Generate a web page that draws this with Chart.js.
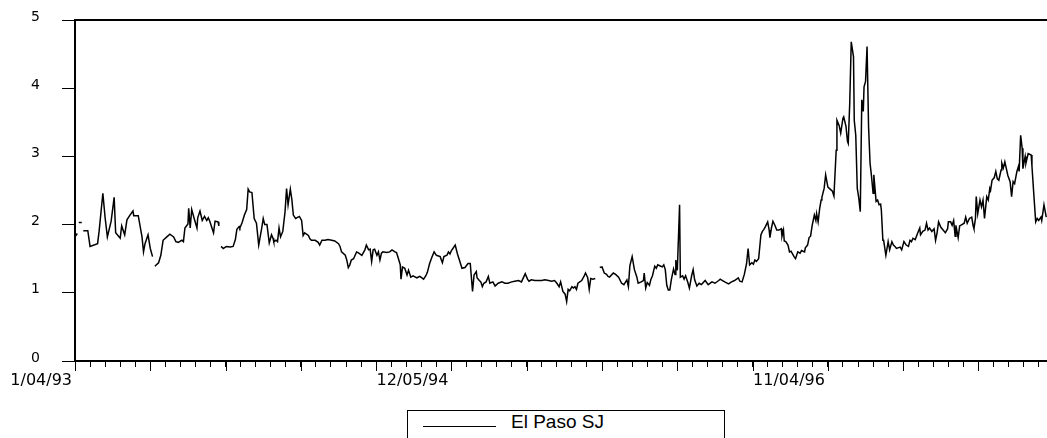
<!DOCTYPE html>
<html>
<head>
<meta charset="utf-8">
<script src="https://cdn.jsdelivr.net/npm/chart.js@4"></script>
<style>
  html, body { margin: 0; padding: 0; background: #fff; overflow: hidden; }
  #wrap { position: relative; width: 1047px; height: 438px; }
  #legend {
    position: absolute; left: 407px; top: 410px; width: 318px; height: 40px;
    box-sizing: border-box; border: 1px solid #000; background: #fff;
    font-family: "Liberation Sans", Arial, sans-serif; font-size: 19px; color: #000;
  }
  #legend .swatch { position: absolute; left: 15px; top: 15px; width: 73px; border-top: 1px solid #000; }
  #legend .name { position: absolute; left: 103px; top: 0px; white-space: nowrap; }
</style>
</head>
<body>
<div id="wrap">
  <canvas id="c" width="1047" height="438"></canvas>
  <div id="legend"><span class="swatch"></span><span class="name"></span></div>
</div>
<script>
// Series name
const seriesName = 'El Paso SJ';

// Observation position in business days after 1/04/93
const obsDay = [
  0,3,4,5,9,10,11,17,20,30,32,37,40,43,48,52,54,60,62,66,69,73,77,78,84,89,91,93,97,100,103,104,106,111,114,117,
  122,126,131,134,137,142,144,146,150,151,153,155,158,162,163,166,169,172,175,177,179,184,186,190,191,193,194,197,
  201,206,210,213,215,218,219,222,225,228,230,232,235,238,241,244,248,250,252,255,258,261,263,264,267,269,271,273,
  276,279,281,283,286,288,290,293,298,301,303,305,310,312,314,319,323,325,328,332,336,341,345,350,352,354,359,361,
  363,365,367,370,374,376,381,385,387,390,392,394,396,398,401,403,405,407,409,414,418,421,425,427,429,432,433,435,
  438,441,443,446,449,454,458,463,466,468,471,474,477,480,485,488,490,494,496,498,500,505,508,510,514,518,522,525,
  526,528,530,533,534,537,539,541,543,546,549,551,555,558,562,567,571,575,580,584,589,593,598,601,603,606,611,615,
  620,624,629,633,637,640,643,645,648,651,653,655,657,660,662,664,666,668,673,676,678,681,683,685,688,691,694,697,
  700,703,706,708,710,715,718,722,726,729,733,735,737,740,743,746,748,752,755,756,758,760,763,765,767,770,772,774,
  778,780,782,784,786,788,790,792,795,797,798,800,803,804,807,809,811,814,816,819,821,823,826,829,832,837,841,846,
  850,855,857,860,863,868,872,876,881,883,886,889,892,894,896,899,901,903,905,908,911,913,915,917,920,922,923,925,
  927,930,932,935,938,939,941,942,944,947,949,951,953,955,957,960,963,965,969,970,973,975,977,979,982,984,985,987,
  989,991,992,995,997,1000,1003,1006,1008,1011,1012,1015,1017,1020,1021,1024,1026,1027,1029,1031,1034,1035,1037,1039,
  1041,1043,1045,1047,1048,1050,1052,1054,1056,1058,1060,1061,1064,1066,1068,1070,1071,1073,1074,1077,1080,1082,1085,1087,
  1089,1091,1096,1098,1101,1104,1107,1109,1111,1113,1116,1119,1122,1123,1126,1129,1131,1133,1135,1138,1141,1143,1145,1147,
  1150,1153,1156,1159,1160,1163,1165,1167,1169,1170,1173,1175,1178,1181,1183,1185,1188,1191,1193,1194,1196,1197,1199,1202,
  1204,1206,1208,1211,1213,1215,1216,1218,1221,1223,1225,1227,1230,1231,1233,1235,1237,1239,1242,1244,1246,1248,1251,1253,
  1254,1256,1258,1259,1262,1263,1266,1270,1271,1274,1276,1278,1280,1283,1284,1287,1290
];

// Price ($/MMBtu); null marks missing observations
const price = [
  1.82,1.87,null,2.03,2.03,null,1.91,1.91,1.68,1.72,1.9,2.46,2.1,1.82,2.05,2.4,1.88,1.8,1.98,1.85,2.07,2.14,2.2,2.13,2.13,1.82,1.6,1.72,1.85,1.65,1.53,null,1.39,1.44,1.55,1.77,
  1.82,1.86,1.82,1.75,1.74,1.77,1.75,1.95,2.01,2.24,1.95,2.22,2.1,1.95,2.1,2.2,2.06,2.12,2.06,2.1,2.05,1.88,2.05,2.04,1.98,null,1.68,1.65,
  1.68,1.67,1.68,1.78,1.93,1.97,1.95,2.03,2.14,2.22,2.52,2.48,2.47,2.09,2.02,1.7,1.95,2.09,2.0,2.0,1.73,1.85,1.8,1.75,1.77,1.75,1.95,1.82,
  1.9,2.19,2.53,2.29,2.52,2.37,2.14,2.09,2.12,2.06,1.84,1.88,1.84,1.79,1.77,1.77,1.74,1.7,1.77,1.77,1.78,1.77,1.76,1.72,1.68,1.6,1.55,1.48,
  1.37,1.41,1.48,1.5,1.6,1.59,1.55,1.63,1.7,1.63,1.64,1.46,1.63,1.64,1.55,1.6,1.48,1.58,1.6,1.59,1.6,1.63,1.6,1.59,1.52,1.41,1.2,1.38,
  1.36,1.26,1.33,1.23,1.25,1.22,1.24,1.2,1.25,1.3,1.43,1.52,1.6,1.55,1.53,1.44,1.53,1.55,1.6,1.57,1.62,1.7,1.57,1.5,1.36,1.37,1.43,1.43,
  1.29,1.02,1.26,1.31,1.22,1.18,1.16,1.09,1.14,1.16,1.24,1.14,1.16,1.1,1.14,1.16,1.14,1.14,1.16,1.17,1.18,1.16,1.28,1.2,1.17,1.19,1.18,1.18,
  1.18,1.19,1.18,1.17,1.18,1.14,1.09,1.16,1.02,0.98,0.87,1.05,1.03,1.09,1.07,1.09,1.05,1.14,1.18,1.24,1.29,1.22,1.05,1.21,1.2,1.21,null,1.37,
  1.38,1.29,1.27,1.24,1.23,1.29,1.27,1.23,1.14,1.12,1.19,1.09,1.4,1.53,1.34,1.24,1.14,1.16,1.18,1.29,1.07,1.15,1.11,1.2,1.25,1.39,1.36,1.41,
  1.39,1.38,1.41,1.34,1.11,1.04,1.04,1.19,1.35,1.27,1.48,1.33,2.29,1.23,1.25,1.2,1.25,1.15,1.07,1.25,1.34,1.19,1.1,1.14,1.12,1.18,1.12,1.16,
  1.14,1.18,1.2,1.18,1.16,1.13,1.16,1.18,1.22,1.17,1.16,1.27,1.43,1.65,1.41,1.44,1.42,1.48,1.46,1.5,1.85,1.9,1.93,1.97,2.04,1.92,1.81,1.95,
  2.05,1.98,1.92,1.92,1.94,1.83,1.92,1.76,1.75,1.7,1.6,1.61,1.57,1.53,1.5,1.6,1.58,1.62,1.6,1.66,1.7,1.81,1.83,1.98,2.14,2.06,2.16,2.04,
  2.23,2.36,2.4,2.53,2.73,2.55,2.52,2.49,2.42,3.09,3.53,3.45,3.34,3.56,3.58,3.44,3.22,3.19,3.78,4.68,4.46,3.53,3.31,2.53,
  2.39,2.19,3.83,3.66,4.02,4.1,4.61,3.44,2.9,2.7,2.46,2.73,2.34,2.36,2.29,2.3,2.21,1.77,1.77,1.55,1.75,1.63,1.75,1.7,
  1.68,1.65,1.67,1.63,1.75,1.7,1.68,1.77,1.75,1.8,1.78,1.87,1.95,1.85,1.9,1.92,2.02,1.92,1.95,1.9,1.94,1.77,1.88,2.04,
  1.96,1.92,1.88,1.94,2.04,2.04,1.99,2.06,1.83,1.99,1.81,1.98,2.0,2.02,2.11,2.02,2.09,2.11,1.98,1.94,2.09,2.41,2.16,2.36,
  2.26,2.36,2.09,2.41,2.36,2.53,2.5,2.65,2.69,2.78,2.67,2.65,2.8,2.9,2.83,2.92,2.82,2.72,2.63,2.41,2.63,2.6,2.78,2.85,
  2.78,3.31,3.12,2.82,3.0,2.9,3.04,3.02,2.86,2.36,2.04,2.09,2.06,2.11,2.06,2.29,2.11
];

// Dated tick labels (business-day offset -> text)
const labelDay = [0, 500, 1000];
const labelText = ['1/04/93', '12/05/94', '11/04/96'];

// Value axis ticks
const yTicks = [0, 1, 2, 3, 4, 5];

const points = obsDay.map((d, i) => ({ x: d, y: price[i] }));

// Top frame line and the longer tick marks every 100 business days
const frame = {
  id: 'frame',
  afterDraw(chart) {
    const { ctx, chartArea: a, scales: { x } } = chart;
    ctx.save();
    ctx.strokeStyle = '#000';
    ctx.lineWidth = 2;
    ctx.beginPath();
    ctx.moveTo(a.left, a.top);
    ctx.lineTo(a.right, a.top);
    ctx.stroke();
    ctx.lineWidth = 1;
    ctx.beginPath();
    for (let v = 0; v <= x.max; v += 100) {
      const px = Math.round(x.getPixelForValue(v)) + 0.5;
      ctx.moveTo(px, a.bottom);
      ctx.lineTo(px, a.bottom + 10);
    }
    ctx.stroke();
    ctx.restore();
  }
};

const chart = new Chart(document.getElementById('c'), {
  type: 'line',
  data: {
    datasets: [{
      label: seriesName,
      data: points,
      borderColor: '#000',
      borderWidth: 1.5,
      pointRadius: 0,
      tension: 0,
      spanGaps: false
    }]
  },
  options: {
    responsive: false,
    animation: false,
    events: [],
    layout: { padding: { top: 20, right: 0, bottom: 47, left: 0 } },
    plugins: { legend: { display: false }, tooltip: { enabled: false } },
    scales: {
      x: {
        type: 'linear',
        min: 0,
        max: 1291,
        afterFit(s) { s.height = 30; s.paddingLeft = 0; s.paddingRight = 0; },
        afterBuildTicks(s) {
          const t = [];
          for (let v = 0; v <= 1280; v += 20) t.push({ value: v });
          s.ticks = t;
        },
        grid: { drawOnChartArea: false, tickLength: 6, color: '#000', lineWidth: 1 },
        border: { color: '#000', width: 2 },
        ticks: {
          autoSkip: false,
          maxRotation: 0,
          align: 'end',
          labelOffset: -3,
          padding: 4,
          color: '#000',
          font: { family: '"DejaVu Sans", sans-serif', size: 16 },
          callback(v) {
            const k = labelDay.indexOf(v);
            return k >= 0 ? labelText[k] : '';
          }
        }
      },
      y: {
        min: 0,
        max: 5,
        afterFit(s) { s.width = 75; s.paddingTop = 0; s.paddingBottom = 0; },
        afterBuildTicks(s) { s.ticks = yTicks.map(v => ({ value: v })); },
        grid: { drawOnChartArea: false, tickLength: 13, color: '#000', lineWidth: 1 },
        border: { color: '#000', width: 2 },
        ticks: {
          padding: 22,
          labelOffset: -3,
          color: '#000',
          font: { family: '"DejaVu Sans", sans-serif', size: 14 }
        }
      }
    }
  },
  plugins: [frame]
});

document.querySelector('#legend .name').textContent = chart.data.datasets[0].label;
</script>
</body>
</html>
